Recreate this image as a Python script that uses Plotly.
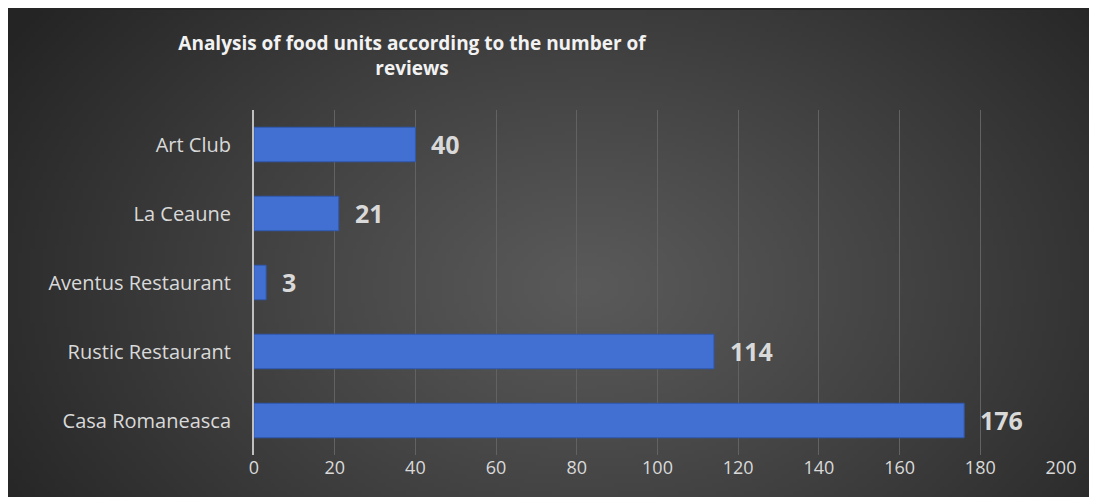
import base64
import struct
import zlib

import numpy as np
import plotly.graph_objects as go

# data, bottom to top
restaurants = ["Casa Romaneasca", "Rustic Restaurant", "Aventus Restaurant", "La Ceaune", "Art Club"]
reviews = [176, 114, 3, 21, 40]
tick_values = [0, 20, 40, 60, 80, 100, 120, 140, 160, 180, 200]

TITLE = "Analysis of food units according to the number of<br>reviews"

# page has an 8px body margin, so the figure is 8px smaller than the window
W, H = 1089, 489
L, R, T, B = 246, 36, 102, 42
PW, PH = W - L - R, H - T - B


def radial_png(w, h, inner=(90, 90, 90), outer=(36, 36, 36)):
    """Small PNG with a radial gray gradient, stretched behind the chart."""
    yy, xx = np.mgrid[0:h, 0:w]
    cx, cy = w * 0.52, h * 0.55
    d = np.sqrt(((xx - cx) / (w * 0.62)) ** 2 + ((yy - cy) / (h * 0.95)) ** 2)
    t = np.clip(d, 0, 1) ** 1.1
    img = np.zeros((h, w, 3), dtype=np.uint8)
    for c in range(3):
        img[..., c] = (inner[c] + (outer[c] - inner[c]) * t).astype(np.uint8)
    raw = b"".join(b"\x00" + img[r].tobytes() for r in range(h))

    def chunk(tag, data):
        body = tag + data
        return struct.pack(">I", len(data)) + body + struct.pack(">I", zlib.crc32(body) & 0xFFFFFFFF)

    png = b"\x89PNG\r\n\x1a\n"
    png += chunk(b"IHDR", struct.pack(">IIBBBBB", w, h, 8, 2, 0, 0, 0))
    png += chunk(b"IDAT", zlib.compress(raw, 9))
    png += chunk(b"IEND", b"")
    return "data:image/png;base64," + base64.b64encode(png).decode()


fig = go.Figure()

fig.add_trace(go.Bar(
    x=reviews,
    y=restaurants,
    orientation="h",
    marker=dict(color="#4170d2", line=dict(color="#2f58b0", width=1)),
    width=0.5,
    hoverinfo="x+y",
))

# value labels to the right of each bar
for name, val in zip(restaurants, reviews):
    fig.add_annotation(
        x=val, y=name, text=f"<b>{val}</b>",
        xanchor="left", yanchor="middle", xshift=14, yshift=1,
        showarrow=False,
        font=dict(family="Open Sans", size=25, color="#d9d9d9"),
    )

# gradient background behind the chart area
fig.add_layout_image(
    source=radial_png(272, 122),
    xref="paper", yref="paper",
    x=-L / PW, y=1 + (T - 2) / PH,
    sizex=(W + 20) / PW, sizey=(H + 10) / PH,
    xanchor="left", yanchor="top",
    sizing="stretch", layer="below",
)

fig.update_layout(
    width=W, height=H,
    paper_bgcolor="#262626",
    plot_bgcolor="rgba(0,0,0,0)",
    margin=dict(l=L, r=R, t=T, b=B),
    showlegend=False,
    title=dict(
        text=f"<b>{TITLE}</b>",
        x=404 / W, xanchor="center",
        y=1 - 42 / H, yanchor="top",
        font=dict(family="Open Sans", size=19, color="#f2f2f2"),
    ),
    xaxis=dict(
        range=[0, 200],
        tickvals=tick_values,
        showgrid=True, gridcolor="#626262", gridwidth=1,
        zeroline=False, showline=False,
        ticks="", ticklen=0,
        tickfont=dict(family="Open Sans", size=18, color="#d9d9d9"),
        fixedrange=True,
    ),
    yaxis=dict(
        showgrid=False,
        showline=True, linecolor="#bfbfbf", linewidth=2,
        ticks="", ticklen=0,
        ticklabelstandoff=17,
        tickfont=dict(family="Open Sans", size=20, color="#d9d9d9"),
        fixedrange=True,
    ),
    bargap=0.5,
)

fig.write_html("out.html")
